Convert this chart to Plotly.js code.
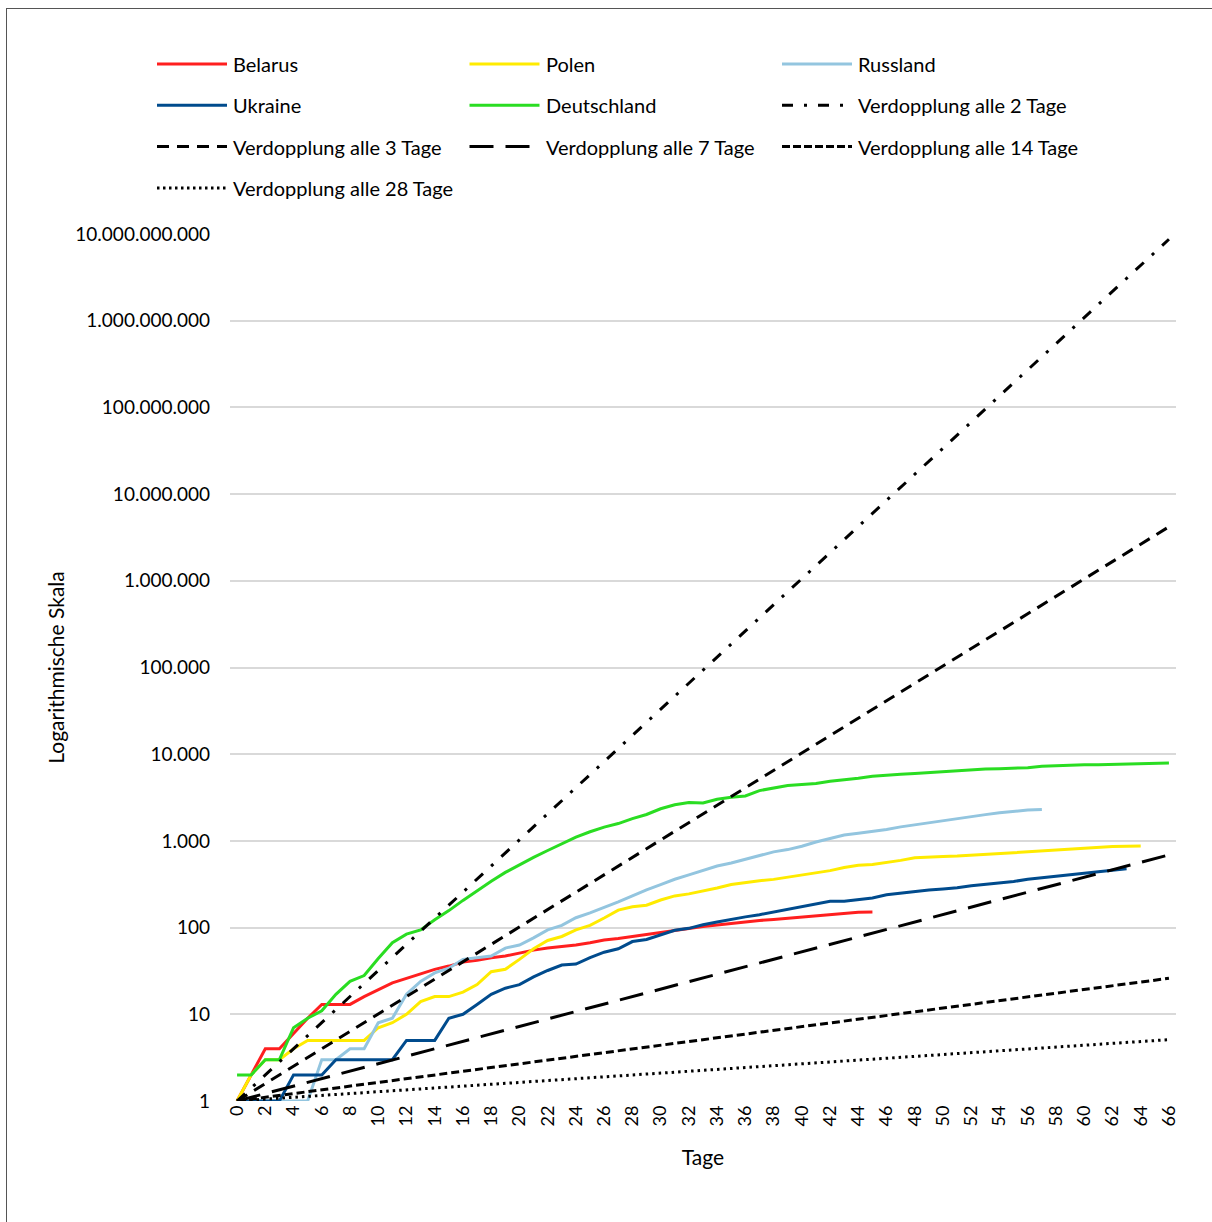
<!DOCTYPE html>
<html><head><meta charset="utf-8">
<script src="https://cdn.plot.ly/plotly-3.0.1.min.js"></script>
<style>
html,body{margin:0;padding:0;background:#fff;}
#chart{width:1212px;height:1222px;}
#frame{position:absolute;left:6px;top:8px;width:1400px;height:1400px;border-left:1.5px solid #555;border-top:1.5px solid #555;pointer-events:none;}
</style>
</head><body><div id="chart"></div><div id="frame"></div>
<script>
// Cumulative values per day since first case
const belarus = [1,2,4,4,6,9,13,13,13,16, 19,23,26,29,33,36,40,42,45,47, 51,55,58,60,63,67,72,75,79,84, 89,93,99,103,107,112,116,121,124,128, 131,135,142,146,150,151];
const polen = [1,2,3,3,4,5,5,5,5,5, 7,8,10,14,16,16,18,22,31,33, 43,57,71,79,94,106,129,159,174,181, 208,232,245,263,286,314,332,347,360,380, 401,427,454,494,524,535,562,596,640,655, 660,668,683,700,717,740,760,776,795,805, 822,839,859,869,874];
const russland = [1,1,1,1,1,1,3,3,4,4, 8,9,17,24,30,34,43,45,47,58, 63,76,94,106,130,148,170,198,232,273, 313,361,405,456,513,555,615,681,747,794, 867,972,1073,1169,1222,1280,1356,1451,1537,1625, 1723,1827,1915,2009,2116,2212,2270,2305];
const ukraine = [1,1,1,1,2,2,2,3,3,3, 3,3,5,5,5,9,10,13,17,20, 22,27,32,37,38,45,52,57,69,73, 83,93,98,108,116,125,133,141,151,161, 174,187,201,201,209,220,239,250,261,272, 279,288,304,316,327,340,361,376,391,408, 425,439,456,476];
const deutschland = [2,2,3,3,7,9,11,17,24,28, 44,67,84,94,123,157,206,267,342,433, 533,645,775,920,1107,1275,1444,1584,1810,2016, 2349,2607,2767,2736,3022,3194,3294,3804,4052,4352, 4459,4586,4862,5033,5279,5575,5760,5877,5976,6126, 6314,6467,6623,6736,6812,6866,6993,7275,7392,7510, 7549,7569,7661,7738,7861,7884,7897];

// Reference doubling lines: start (day 0) and end (day 66) values
const verdopplungNamen = ['Verdopplung alle 2 Tage','Verdopplung alle 3 Tage','Verdopplung alle 7 Tage','Verdopplung alle 14 Tage','Verdopplung alle 28 Tage'];
const verdopplungTage = [0, 66];
const verdopplungStart = [1, 1, 1, 1, 1];
const verdopplungEnde = [8.7e9, 4.2e6, 690, 26, 5.1];

const yTickVals = [1,10,100,1e3,1e4,1e5,1e6,1e7,1e8,1e9,1e10];
const yTickText = ['1','10','100','1.000','10.000','100.000','1.000.000','10.000.000','100.000.000','1.000.000.000','10.000.000.000'];

const laender = [
  {name:'Belarus', y:belarus, color:'#ff1f1f'},
  {name:'Polen', y:polen, color:'#ffeb00'},
  {name:'Russland', y:russland, color:'#93c5df'},
  {name:'Ukraine', y:ukraine, color:'#004b8d'},
  {name:'Deutschland', y:deutschland, color:'#2add22'}
];
const dashes = ['11px,11px,3px,11px','12px,8px','24px,12px','8px,4px','2.5px,4px'];

const traces = [];
laender.forEach(l => {
  traces.push({type:'scatter', mode:'lines', name:l.name, x:l.y.map((v,i)=>i), y:l.y,
    line:{color:l.color, width:3}, hoverinfo:'x+y+name'});
});
verdopplungNamen.forEach((n,i) => {
  traces.push({type:'scatter', mode:'lines', name:n, x:verdopplungTage, y:[verdopplungStart[i], verdopplungEnde[i]],
    line:{color:'#000', width:3, dash:dashes[i]}, hoverinfo:'name'});
});

// custom legend (3 columns)
const L=230, W=946, B=1101, H=867;
const px = v => (v-L)/W, py = v => (B-v)/H;
const legendDashes = ['11px,11px,3px,11px','12px,8px','24px,12px','8px,3px','2.5px,3.5px'];
const legendItems = laender.map(l => ({name:l.name, color:l.color, dash:'solid'}))
  .concat(verdopplungNamen.map((n,i)=>({name:n, color:'#000', dash:legendDashes[i]})));
const shapes = [], annotations = [];
legendItems.forEach((it,k) => {
  const r = Math.floor(k/3), c = k%3;
  const yy = 64 + r*41.3, x0 = 157 + c*312.5;
  shapes.push({type:'line', xref:'paper', yref:'paper', x0:px(x0), x1:px(x0+70), y0:py(yy), y1:py(yy),
    line:{color:it.color, width:3, dash:it.dash}});
  annotations.push({xref:'paper', yref:'paper', x:px(x0+74), y:py(yy), xanchor:'left', yanchor:'middle',
    text:it.name, showarrow:false, font:{size:20, color:'#000'}});
});

const layout = {
  width:1212, height:1222,
  margin:{l:230, r:36, t:234, b:121},
  paper_bgcolor:'#fff', plot_bgcolor:'#fff',
  font:{family:'Lato, sans-serif', color:'#000', size:18},
  showlegend:false,
  xaxis:{range:[-0.5,66.5], tickmode:'linear', tick0:0, dtick:2, tickangle:-90,
    showgrid:false, zeroline:false, showline:false, ticks:'', tickfont:{size:18},
    title:{text:'Tage', font:{size:21}, standoff:24}},
  yaxis:{type:'log', range:[0,10], tickmode:'array', tickvals:yTickVals, ticktext:yTickText,
    showgrid:true, gridcolor:'#d9d9d9', gridwidth:2, zeroline:false, showline:false, ticks:'',
    ticklabelstandoff:19, tickfont:{size:19},
    title:{text:'Logarithmische Skala', font:{size:21}, standoff:4}},
  shapes:shapes, annotations:annotations
};
Plotly.newPlot('chart', traces, layout, {displayModeBar:false, staticPlot:true});
</script>
</body></html>
